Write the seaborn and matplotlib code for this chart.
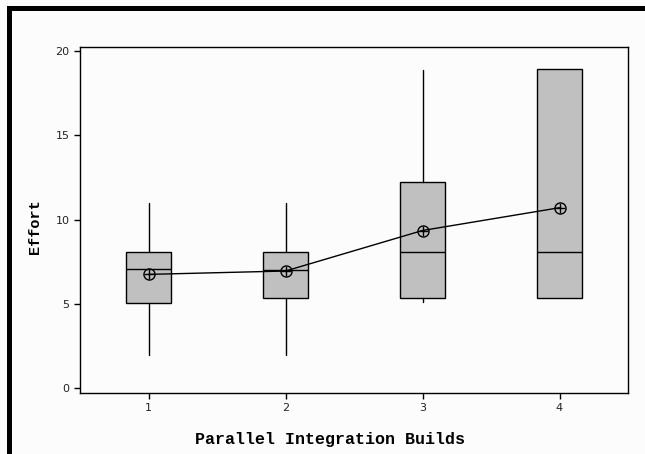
import matplotlib
matplotlib.use("Agg")
import matplotlib.pyplot as plt
from matplotlib.patches import Rectangle
import seaborn as sns
import pandas as pd

# summary stats
builds = [1, 2, 3, 4]
whisker_low = [2.0, 2.0, 5.13, 5.35]
q1 = [5.05, 5.35, 5.35, 5.35]
median = [7.05, 7.0, 8.05, 8.05]
q3 = [8.05, 8.05, 12.2, 18.9]
whisker_high = [11.0, 11.0, 18.85, 18.9]
means = [6.75, 6.95, 9.35, 10.7]

sns.set_style("white")
plt.rcParams["font.family"] = ["DejaVu Sans"]

fig = plt.figure(figsize=(6.45, 4.54), dpi=100, facecolor="#fcfcfc")
ax = fig.add_axes([80 / 645, 1 - 392.7 / 454, 548 / 645, 346 / 454])
ax.set_facecolor("#fcfcfc")

stats = []
for i in range(len(builds)):
    stats.append({"whislo": whisker_low[i], "q1": q1[i], "med": median[i],
                  "q3": q3[i], "whishi": whisker_high[i], "fliers": []})

ax.bxp(stats, positions=builds, widths=0.33, patch_artist=True, showcaps=False,
       boxprops=dict(facecolor="#c0c0c0", edgecolor="black", linewidth=1),
       medianprops=dict(color="black", linewidth=1),
       whiskerprops=dict(color="black", linewidth=1),
       manage_ticks=False)

mean_df = pd.DataFrame({"Build": builds, "Mean": means})
sns.lineplot(data=mean_df, x="Build", y="Mean", ax=ax, color="black", linewidth=1,
             marker="o", markersize=8, markerfacecolor="none",
             markeredgecolor="black", markeredgewidth=1, zorder=5)
sns.scatterplot(data=mean_df, x="Build", y="Mean", ax=ax, marker="+", s=60,
                color="black", linewidth=1, zorder=6)

ax.set_xlim(0.5, 4.5)
ax.set_ylim(-0.26, 20.24)
ax.set_xticks(builds)
ax.set_xticklabels([str(b) for b in builds])
ax.set_yticks([0, 5, 10, 15, 20])
ax.tick_params(axis="both", direction="out", length=4, width=1, color="black",
               labelsize=8, labelcolor="#222222", bottom=True, left=True)
for s in ax.spines.values():
    s.set_color("black")
    s.set_linewidth(1)

ax.set_xlabel("Parallel Integration Builds", fontsize=12, fontweight="bold",
              family="Liberation Mono", color="black")
ax.set_ylabel("Effort", fontsize=11, fontweight="bold", family="Liberation Mono",
              color="black")
ax.xaxis.set_label_coords(0.456, -0.134)
ax.yaxis.set_label_coords(-0.082, 0.48)
ax.xaxis.label.set_va("center")
ax.yaxis.label.set_va("center")

# thick frame along the top and left of the picture
fig.add_artist(Rectangle((7 / 645, 0), 5 / 645, 1 - 6 / 454, transform=fig.transFigure,
                         color="black", lw=0))
fig.add_artist(Rectangle((7 / 645, 1 - 11 / 454), 1, 5 / 454, transform=fig.transFigure,
                         color="black", lw=0))

fig.savefig("out.png", dpi=100, facecolor=fig.get_facecolor())
